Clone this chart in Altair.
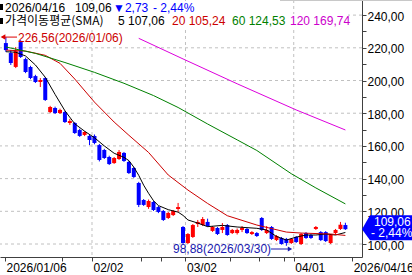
import altair as alt
import pandas as pd

# ---------------- data ----------------
opens = [222.9, 216.8, 208.3, 223.5, 213.1, 208.3, 202.7, 199.1, 201.5, 180.7,
         183.2, 180.1, 180.7, 174.0, 174.0, 169.7, 166.7, 166.1, 166.1, 160.5,
         157.5, 153.2, 149.5, 152.0, 155.7, 150.2, 146.5, 137.3, 126.9, 122.6,
         125.7, 122.6, 120.2, 115.9, 117.7, 121.4, 110.4, 100.6, 104.3, 112.2,
         111.6, 113.5, 108.0, 109.8, 108.6, 111.6, 106.7, 106.7, 108.6, 109.2,
         106.1, 106.7, 115.9, 106.7, 110.4, 102.4, 103.7, 103.1, 100.6, 104.3,
         100.0, 106.7, 105.5, 109.2, 107.3, 107.3, 100.6, 106.7, 109.2, 111.6]
closes = [218.6, 210.7, 218.0, 214.4, 205.2, 201.5, 199.1, 200.3, 188.1, 183.8,
          180.1, 182.0, 174.6, 175.2, 167.9, 166.1, 168.5, 163.6, 161.8, 151.4,
          152.6, 148.9, 152.6, 156.3, 150.8, 143.4, 141.0, 123.9, 123.9, 126.3,
          120.8, 119.6, 114.7, 119.0, 120.2, 122.6, 100.6, 106.1, 111.6, 113.5,
          115.3, 111.0, 110.4, 106.1, 110.4, 105.5, 108.6, 108.6, 109.8, 106.7,
          107.3, 104.9, 108.6, 108.6, 103.1, 104.9, 100.0, 100.6, 103.1, 101.2,
          106.1, 103.7, 103.7, 110.4, 102.4, 101.8, 105.5, 108.6, 111.79, 109.06]
highs = [226.56, 218.6, 220.5, 224.8, 214.0, 209.0, 203.5, 201.5, 202.0, 184.5,
         184.0, 182.8, 181.5, 176.5, 174.6, 170.5, 169.0, 166.7, 167.0, 161.2,
         158.2, 154.0, 153.2, 157.5, 156.3, 150.8, 147.1, 138.0, 127.5, 127.2,
         126.3, 123.3, 120.8, 119.6, 120.8, 125.1, 111.0, 106.7, 112.2, 114.7,
         116.5, 115.5, 111.0, 110.4, 112.8, 112.2, 109.2, 109.5, 111.0, 109.8,
         107.9, 107.3, 116.5, 111.0, 111.0, 105.5, 104.3, 103.7, 103.7, 104.9,
         106.7, 107.3, 106.1, 111.0, 107.9, 107.9, 106.1, 109.2, 113.5, 113.0]
lows = [217.5, 209.5, 207.6, 213.8, 204.5, 200.8, 198.5, 196.0, 187.5, 180.0,
        179.5, 179.5, 174.0, 172.8, 167.3, 165.5, 166.0, 160.5, 161.0, 150.5,
        152.0, 148.3, 149.0, 151.4, 150.2, 142.8, 140.4, 122.6, 123.3, 121.5,
        120.2, 118.9, 114.1, 115.3, 117.1, 119.6, 99.6, 100.0, 103.7, 110.4,
        111.0, 110.5, 107.4, 105.5, 106.7, 105.0, 106.1, 105.8, 107.3, 106.1,
        105.5, 104.3, 108.0, 106.1, 102.5, 101.8, 99.6, 98.88, 100.0, 100.6,
        99.4, 103.1, 103.1, 108.6, 101.8, 101.2, 100.0, 106.1, 108.6, 108.6]

sma5_i = [0, 2, 4, 6, 8, 10, 12, 14, 16, 18, 20, 22, 24, 25, 26, 27, 28, 29, 30,
          31, 33, 35, 36, 37, 39, 41, 44, 47, 51, 53, 55, 57, 59, 61, 63, 65, 67, 69]
sma5_v = [217.6, 217.3, 215.0, 209.5, 202.0, 191.5, 181.5, 173.5, 169.0, 165.0,
          160.0, 155.5, 153.0, 151.0, 147.0, 142.0, 136.0, 131.0, 126.5, 123.5,
          121.0, 119.5, 117.5, 114.7, 112.8, 110.6, 111.4, 110.4, 109.6, 108.6,
          104.6, 102.4, 104.2, 105.5, 105.5, 106.1, 105.5, 107.06]
sma20_i = [0, 4, 8, 11, 14, 18, 22, 25, 29, 33, 37, 41, 45, 51, 57, 60, 66, 69]
sma20_v = [218.6, 218.0, 215.4, 210.5, 200.9, 186.8, 174.6, 166.5, 156.0, 142.2,
           133.0, 124.8, 117.3, 111.6, 107.3, 106.7, 106.1, 105.24]
sma60_i = [0, 6, 12, 18, 24, 30, 35, 41, 47, 51, 58, 63, 69]
sma60_v = [220.5, 216.6, 211.0, 205.0, 198.3, 190.8, 183.5, 173.4, 163.7, 157.2,
           143.0, 134.3, 124.53]
sma120_i = [27, 36, 47, 59, 69]
sma120_v = [225.8, 213.2, 198.0, 182.0, 169.74]

x_tick_pos = [-0.18, 11.5, 17.5, 27.5, 31.5, 36.5, 45.5, 51.5, 56.5, 58.5, 70.37]
x_tick_lab = ["2026/01/06", "", "02/02", "", "", "03/02", "", "", "", "04/01", "2026/04/16"]
x_grid_pos = [17.5, 36.5, 58.5]
y_tick_vals = list(range(100, 250, 10))
y_grid_vals = list(range(100, 250, 20))

UP, DOWN = "#FF0000", "#0000FF"
SMA_NAMES = ["5", "20", "60", "120"]
SMA_COLORS = ["#000000", "#CC0000", "#008000", "#DD00DD"]
FONT = "Liberation Sans"
KFONT = "Noto Sans CJK KR"

# ---------------- tables ----------------
candles = pd.DataFrame({
    "i": list(range(len(opens))), "o": opens, "c": closes, "h": highs, "l": lows,
})
candles["dir"] = ["up" if c >= o else "down" for o, c in zip(opens, closes)]

sma_rows = []
for name, ii, vv in [("5", sma5_i, sma5_v), ("20", sma20_i, sma20_v),
                     ("60", sma60_i, sma60_v), ("120", sma120_i, sma120_v)]:
    for a, b in zip(ii, vv):
        sma_rows.append({"i": a, "p": b, "s": name})
sma = pd.DataFrame(sma_rows)

# ---------------- scales / axes ----------------
X_SCALE = alt.Scale(domain=[-0.18, 71.36], nice=False, zero=False)
Y_SCALE = alt.Scale(domain=[92.05, 249.24], nice=False, zero=False)

parts = []
for pos, lab in zip(x_tick_pos, x_tick_lab):
    if lab:
        parts.append(f"abs(datum.value - ({pos})) < 0.01 ? '{lab}'")
x_label_expr = " : ".join(parts) + " : ''"

XAXIS = alt.Axis(values=x_tick_pos, labelExpr=x_label_expr, title=None, grid=False,
                 orient="bottom", labelAlign="left", labelBaseline="top", labelPadding=1,
                 labelFlush=False, labelOverlap=False, labelBound=False, tickSize=4,
                 tickColor="#404040", domainColor="#404040", labelFont=FONT,
                 labelFontSize=12, labelColor="#000000", labelOffset=1)
YAXIS = alt.Axis(values=y_tick_vals, orient="right", title=None, grid=False,
                 labelExpr="datum.value % 20 == 0 ? replace(format(datum.value, '.2f'), '.', ',') : ''",
                 labelAlign="left", labelBaseline="middle", labelPadding=1, tickSize=4,
                 tickColor="#404040", domainColor="#404040", labelFont=FONT,
                 labelFontSize=12, labelColor="#000000", labelOverlap=False, labelOffset=1)


def X(f):
    return alt.X(f"{f}:Q", scale=X_SCALE, axis=XAXIS)


def Y(f):
    return alt.Y(f"{f}:Q", scale=Y_SCALE, axis=YAXIS)


COLOR = alt.Color("dir:N", scale=alt.Scale(domain=["up", "down"], range=[UP, DOWN]), legend=None)

# ---------------- layers ----------------
grid_h = alt.Chart(pd.DataFrame({"p": y_grid_vals})).mark_rule(
    color="#C0C0C0", strokeDash=[3, 3], strokeWidth=1).encode(y=Y("p"))
grid_v = alt.Chart(pd.DataFrame({"i": x_grid_pos})).mark_rule(
    color="#C0C0C0", strokeDash=[3, 3], strokeWidth=1).encode(x=X("i"))

wicks = alt.Chart(candles).mark_rule(strokeWidth=1).encode(
    x=X("i"), y=Y("l"), y2=alt.Y2("h"), color=COLOR)
bodies = alt.Chart(candles).mark_bar(size=4).encode(
    x=X("i"), y=Y("o"), y2=alt.Y2("c"), color=COLOR)

lines = alt.Chart(sma).mark_line(strokeWidth=1).encode(
    x=X("i"), y=Y("p"),
    color=alt.Color("s:N", scale=alt.Scale(domain=SMA_NAMES, range=SMA_COLORS), legend=None),
    order="i:Q")

dummy = pd.DataFrame({"a": [0]})
# opaque text backgrounds of the two header lines
header_bg = [
    alt.Chart(dummy).mark_rect(color="white").encode(
        x=alt.value(0), x2=alt.value(x2), y=alt.value(y1), y2=alt.value(y2))
    for x2, y1, y2 in ((194, 1, 14), (348, 14, 28))
]
markers = [
    alt.Chart(dummy).mark_rect(color="black").encode(
        x=alt.value(0), x2=alt.value(3), y=alt.value(y0), y2=alt.value(y0 + 6))
    for y0 in (4, 18)
]
top_line = alt.Chart(dummy).mark_rule(color="#C8C8C8", strokeWidth=1).encode(
    x=alt.value(280), x2=alt.value(412), y=alt.value(0.5))

header_segments = [
    ("2026/04/16", 5, 12, "#000000", FONT),
    ("109,06", 75, 12, "#000000", FONT),
    ("▼2,73", 113, 12, "#0000FF", FONT),
    ("- 2,44%", 153, 12, "#0000FF", FONT),
    ("가격이동평균(SMA)", 5, 25, "#000000", KFONT),
    ("5 107,06", 118, 25, "#000000", FONT),
    ("20 105,24", 172, 25, "#CC0000", FONT),
    ("60 124,53", 232, 25, "#008000", FONT),
    ("120 169,74", 290, 25, "#CC00CC", FONT),
]
header_layers = []
for t, xx, yy, col, fnt in header_segments:
    header_layers.append(
        alt.Chart(pd.DataFrame({"t": [t]})).mark_text(
            align="left", baseline="alphabetic", font=fnt, fontSize=12, color=col
        ).encode(x=alt.value(xx), y=alt.value(yy), text="t:N"))

# high annotation
hi_df = pd.DataFrame({"p": [226.56], "t": ["226,56(2026/01/06)"]})
hi_line = alt.Chart(hi_df).mark_rule(color="#DD0000", strokeWidth=1).encode(
    x=alt.value(2), x2=alt.value(17), y=Y("p"))
hi_head = alt.Chart(hi_df).mark_point(shape="triangle-left", filled=True, size=30,
                                      color="#DD0000", opacity=1).encode(
    x=alt.value(3), y=Y("p"))
hi_text = alt.Chart(hi_df).mark_text(align="left", baseline="middle", dy=1, font=FONT,
                                     fontSize=12, color="#CC0000").encode(
    x=alt.value(18), y=Y("p"), text="t:N")

# low annotation
lo_df = pd.DataFrame({"p": [98.88], "t": ["98,88(2026/03/30)"]})
lo_text = alt.Chart(lo_df).mark_text(align="left", baseline="middle", font=FONT,
                                     fontSize=12, color="#1818B0").encode(
    x=alt.value(173), y=alt.value(249), text="t:N")
lo_line = alt.Chart(lo_df).mark_rule(color="#1818B0", strokeWidth=1).encode(
    x=alt.value(271), x2=alt.value(290), y=alt.value(249))
lo_head = alt.Chart(lo_df).mark_point(shape="triangle-right", filled=True, size=25,
                                      color="#1818B0", opacity=1).encode(
    x=alt.value(290), y=alt.value(249))

# last price tag
tag_df = pd.DataFrame({"p": [closes[-1]], "a": ["109,06"], "b": ["- 2,44%"]})
TAG_PATH = "M -1 0 L -0.68 -0.56 L 1 -0.56 L 1 0.44 L -0.68 0.44 Z"
tag_shape = alt.Chart(tag_df).mark_point(shape=TAG_PATH, filled=True, size=2500,
                                         color="#0000FF", opacity=1, strokeWidth=0).encode(
    x=alt.value(387), y=Y("p"))
tag_t1 = alt.Chart(tag_df).mark_text(align="left", baseline="middle", dy=-7, font=FONT,
                                     fontSize=12, color="white").encode(
    x=alt.value(374), y=Y("p"), text="a:N")
tag_t2 = alt.Chart(tag_df).mark_text(align="left", baseline="middle", dy=4, font=FONT,
                                     fontSize=12, color="white").encode(
    x=alt.value(371), y=Y("p"), text="b:N")

chart = alt.layer(
    grid_h, grid_v, wicks, bodies, lines, *header_bg, *markers, top_line, *header_layers,
    hi_line, hi_head, hi_text, lo_text, lo_line, lo_head, tag_shape, tag_t1, tag_t2,
).resolve_scale(color="independent").properties(
    width=362, height=257,
    autosize=alt.AutoSizeParams(type="none"),
    padding={"left": 0, "top": 0, "right": 50, "bottom": 18},
    background="white",
).configure_view(strokeWidth=0)

chart.save("out.html", embed_options={"renderer": "svg", "actions": False})
